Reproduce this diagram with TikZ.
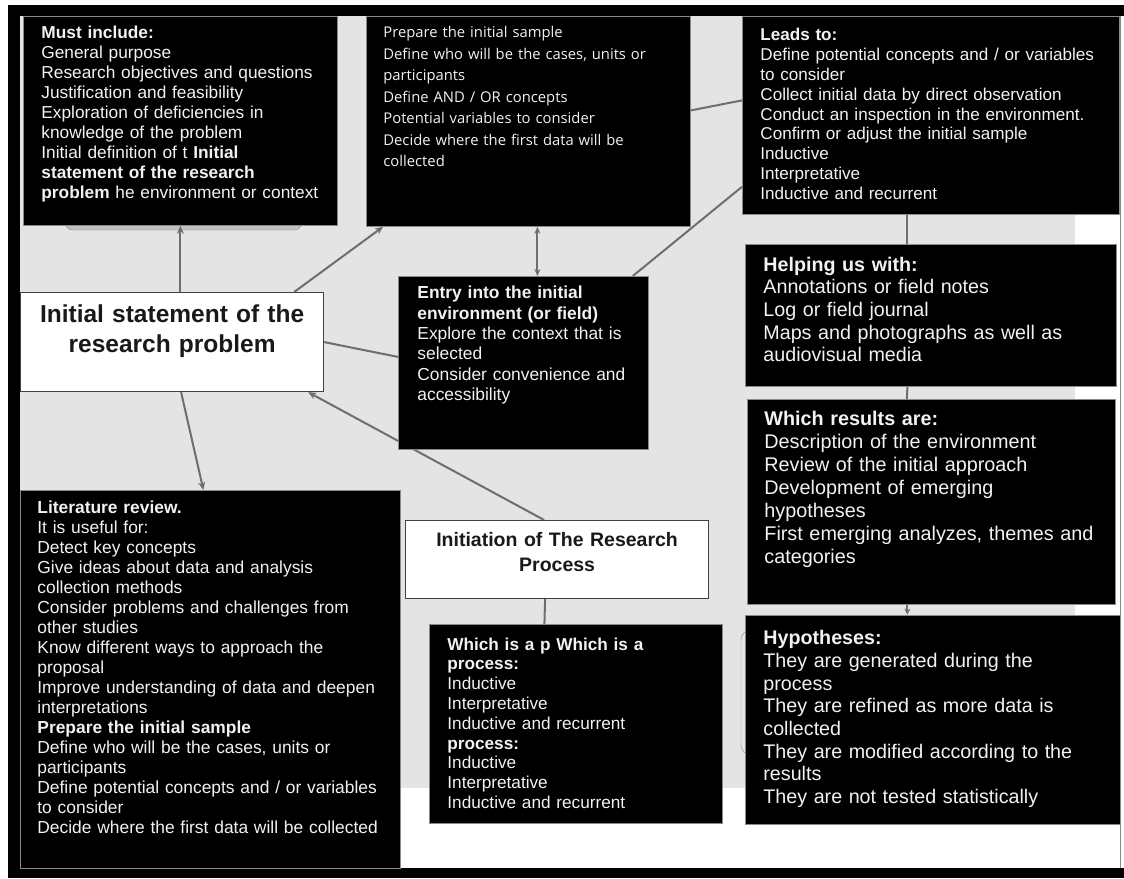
\documentclass[tikz,border=0pt]{standalone}
\usepackage{fontspec}
\setmainfont{Liberation Sans}
\newfontfamily\segoe{Open Sans}
\usetikzlibrary{arrows.meta, calc, positioning, backgrounds}
\newcommand{\letra}[2]{\fontsize{#1}{#2}\selectfont}
\definecolor{fondo}{HTML}{E4E4E4}
\definecolor{linea}{HTML}{6E6E6E}
\definecolor{borde}{HTML}{8A8A8A}
\definecolor{blanco}{HTML}{F2F2F2}
\tikzstyle{negra} = [fill=black, draw=borde, line width=0.8pt, text=blanco, anchor=north west, align=left, inner ysep=0pt]
\tikzstyle{blanca} = [fill=white, draw=black!75, line width=1.2pt, text=black!90, anchor=north west, align=center, inner ysep=0pt]
\tikzstyle{conector} = [draw=linea, line width=2pt]
\tikzstyle{flecha} = [conector, -{Stealth[length=8pt, width=7pt]}]

\begin{document}
\begin{tikzpicture}[x=1pt, y=-1pt]
	\useasboundingbox (0,0) rectangle (1124,878);
	\node[negra, inner xsep=18pt, text width=278pt, text height=22.5pt, text depth=186.5pt, font={\letra{17.3}{19.9}}] (include) at (23,16) {%
		\textbf{Must include:}\\
		General purpose\\
		Research objectives and questions\\
		Justification and feasibility\\
		Exploration of deficiencies in\\
		knowledge of the problem\\
		Initial definition of t \textbf{Initial}\\
		\textbf{statement of the research}\\
		\textbf{problem} he environment or context};
	\node[negra, inner xsep=17pt, text width=290pt, text height=21.5pt, text depth=188.5pt, font={\segoe\letra{14.8}{21.5}}] (sample) at (366,16) {%
		Prepare the initial sample\\
		Define who will be the cases, units or\\
		participants\\
		Define AND / OR concepts\\
		Potential variables to consider\\
		Decide where the first data will be\\
		collected};
	\node[negra, inner xsep=18pt, text width=341pt, text height=24.5pt, text depth=173.5pt, font={\letra{17.1}{19.8}}] (leads) at (742,16) {%
		\textbf{Leads to:}\\
		Define potential concepts and / or variables\\
		to consider\\
		Collect initial data by direct observation\\
		Conduct an inspection in the environment.\\
		Confirm or adjust the initial sample\\
		Inductive\\
		Interpretative\\
		Inductive and recurrent};
	\node[blanca, inner xsep=10pt, text width=283pt, text height=30pt, text depth=69pt, font={\bfseries\letra{24.5}{30}}] (statement) at (20,292) {%
		Initial statement of the\\
		research problem};
	\node[negra, inner xsep=19pt, text width=212pt, text height=22.5pt, text depth=150.5pt, font={\letra{17.4}{20.3}}] (entry) at (398,276) {%
		\textbf{Entry into the initial}\\
		\textbf{environment (or field)}\\
		Explore the context that is\\
		selected\\
		Consider convenience and\\
		accessibility};
	\node[negra, inner xsep=18pt, text width=335pt, text height=26.6pt, text depth=115.4pt, font={\letra{19.7}{22.7}}] (helping) at (745,244) {%
		\textbf{Helping us with:}\\
		Annotations or field notes\\
		Log or field journal\\
		Maps and photographs as well as\\
		audiovisual media};
	\node[negra, below right=12pt and 2pt of helping.south west, inner xsep=17pt, text width=334pt, text height=26.6pt, text depth=178.4pt, font={\letra{19.8}{23}}] (results) {%
		\textbf{Which results are:}\\
		Description of the environment\\
		Review of the initial approach\\
		Development of emerging\\
		hypotheses\\
		First emerging analyzes, themes and\\
		categories};
	\node[negra, below right=10pt and -2pt of results.south west, inner xsep=18pt, text width=339pt, text height=29.6pt, text depth=179.4pt, font={\letra{19.7}{22.7}}] (hypotheses) {%
		\textbf{Hypotheses:}\\
		They are generated during the\\
		process\\
		They are refined as more data is\\
		collected\\
		They are modified according to the\\
		results\\
		They are not tested statistically};
	\node[negra, inner xsep=17pt, text width=346pt, text height=23pt, text depth=355pt, font={\letra{17.4}{20}}] (literature) at (20,490) {%
		\textbf{Literature review.}\\
		It is useful for:\\
		Detect key concepts\\
		Give ideas about data and analysis\\
		collection methods\\
		Consider problems and challenges from\\
		other studies\\
		Know different ways to approach the\\
		proposal\\
		Improve understanding of data and deepen\\
		interpretations\\
		\textbf{Prepare the initial sample}\\
		Define who will be the cases, units or\\
		participants\\
		Define potential concepts and / or variables\\
		to consider\\
		Decide where the first data will be collected};
	\node[blanca, inner xsep=8pt, text width=287pt, text height=26pt, text depth=52pt, font={\bfseries\letra{19.5}{25}}] (initiation) at (405,520) {%
		Initiation of The Research\\
		Process};
	\node[negra, below right=25pt and 24pt of initiation.south west, inner xsep=18pt, text width=257pt, text height=25.5pt, text depth=173.5pt, font={\letra{17.2}{19.8}}] (process) {%
		\textbf{Which is a p Which is a}\\
		\textbf{process:}\\
		Inductive\\
		Interpretative\\
		Inductive and recurrent\\
		\textbf{process:}\\
		Inductive\\
		Interpretative\\
		Inductive and recurrent};
	\begin{pgfonlayer}{background}
		\fill[black] (8,5) rectangle (1124,16);
		\fill[black] (8,5) rectangle (20,878);
		\fill[black] (8,868) rectangle (1124,878);
		\fill[fondo] (20,16) rectangle (1075,788);
		\draw[borde, line width=1pt] (1120.5,16) -- (1120.5,868);
		\draw[borde, fill=fondo!85!black, rounded corners=8pt] (65,150) rectangle (302,230);
		\draw[borde, rounded corners=10pt] (741,630) rectangle (800,755);
		\draw[flecha] (statement.north -| include.south) -- (include.south);
		\draw[flecha] ($(statement.north east)+(-30,0)$) -- ($(sample.south west)+(17,0)$);
		\draw[conector, {Stealth[length=7pt, width=6pt]}-{Stealth[length=7pt, width=6pt]}] ($(sample.south)+(9,0)$) -- ($(entry.north)+(14,0)$);
		\draw[conector] (statement.east) -- ($(entry.west)+(0,-6)$);
		\draw[flecha] ($(initiation.north)+(-13,0)$) -- ($(statement.south east)+(-16,0)$);
		\draw[flecha] ($(statement.south)+(9,0)$) -- ($(literature.north)+(-7,0)$);
		\draw[conector] ($(sample.east)+(0,-11)$) -- ($(leads.west)+(0,-15)$);
		\draw[conector] ($(entry.north east)+(-16,0)$) -- ($(leads.south west)+(0,-28)$);
		\draw[conector] ($(leads.south)+(-23.5,0)$) -- ($(helping.north)+(-23.5,0)$);
		\draw[conector] ($(helping.south)+(-23.5,0)$) -- ($(results.north)+(-24.5,0)$);
		\draw[conector, -{Stealth[length=6pt, width=6pt]}] ($(results.south)+(-24,0)$) -- ($(hypotheses.north)+(-25.5,0)$);
		\draw[conector] ($(initiation.south)+(-12,0)$) -- ($(process.north)+(-31.5,0)$);
	\end{pgfonlayer}
\end{tikzpicture}
\end{document}
